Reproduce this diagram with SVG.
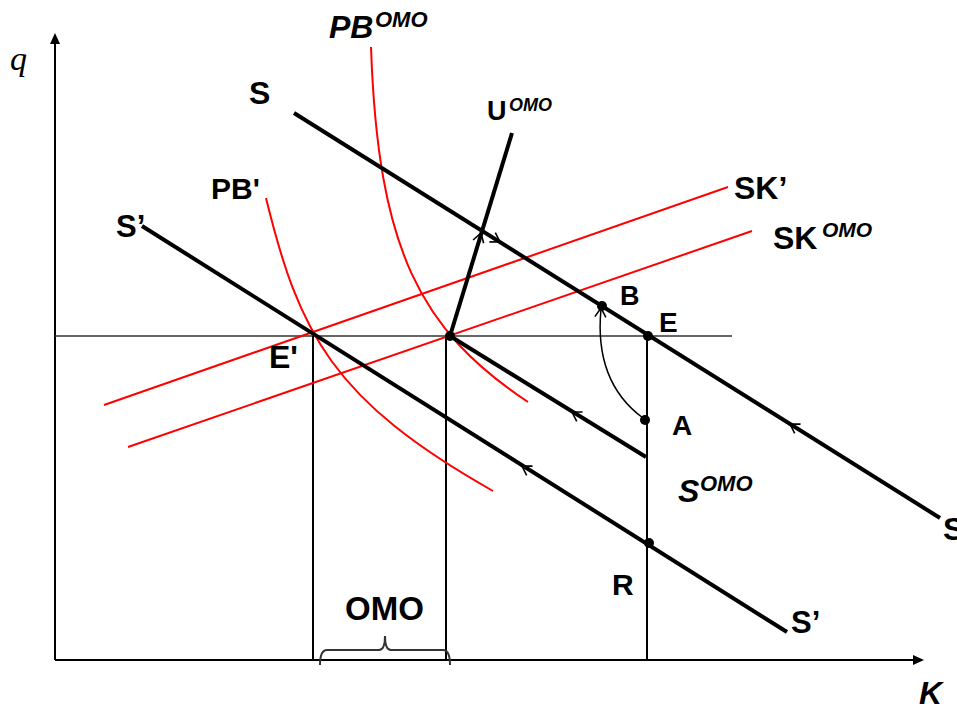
<svg xmlns="http://www.w3.org/2000/svg" xmlns:xlink="http://www.w3.org/1999/xlink" width="957" height="704" viewBox="0 0 957 704">
<style>
.lbl{font-family:"Liberation Sans",Arial,sans-serif;font-weight:bold;fill:#000}
.it{font-style:italic}
.thick{stroke:#000;stroke-width:4;fill:none;stroke-linecap:butt}
.thin{stroke:#000;stroke-width:2;fill:none}
.red{stroke:#ff0000;stroke-width:2;fill:none}
.chev{stroke:#000;stroke-width:1.6;fill:none}
.dot{fill:#000}
</style>
<defs>
<path id="chev" d="M-9,-5.5 L0,0 L-9,5.5"/>
</defs>
<rect width="957" height="704" fill="#fff"/>
<g id="axes">
<line x1="55" y1="660" x2="55" y2="42" class="thin"/>
<polygon points="55,33 50,44 60,44" fill="#000"/>
<line x1="55" y1="660" x2="914" y2="660" class="thin"/>
<polygon points="924,660 913,655 913,665" fill="#000"/>
<text x="10" y="70" font-family="Liberation Serif,serif" font-style="italic" font-size="34">q</text>
<text x="919" y="704" class="lbl it" font-size="32">K</text>
</g>
<g id="guides">
<line x1="55" y1="336" x2="732" y2="336" stroke="#333" stroke-width="1.5"/>
<line x1="313" y1="336" x2="313" y2="660" class="thin"/>
<line x1="446" y1="336" x2="446" y2="660" class="thin"/>
<line x1="647" y1="336" x2="647" y2="660" class="thin"/>
</g>
<g id="curve-PBprime">
<path d="M266,198 C299,333 332,400 493,491" class="red"/>
<text x="211" y="199" class="lbl" font-size="30">PB'</text>
</g>
<g id="curve-PBOMO">
<path d="M371,47 C378,250 420,330 528,402" class="red"/>
<text x="329" y="38" class="lbl it" font-size="32">PB<tspan x="375" y="27" font-size="22">OMO</tspan></text>
</g>
<g id="line-SKprime">
<line x1="104" y1="405" x2="728" y2="187" class="red"/>
<text x="734" y="199" class="lbl" font-size="32">SK’</text>
</g>
<g id="line-SKOMO">
<line x1="128" y1="447" x2="752" y2="231" class="red"/>
<text x="773" y="249" class="lbl" font-size="32">SK<tspan x="822" y="237" class="it" font-size="21">OMO</tspan></text>
</g>
<g id="line-S">
<line x1="294" y1="113" x2="940" y2="518" class="thick"/>
<text x="249" y="104" class="lbl" font-size="32">S</text>
<text x="943" y="540" class="lbl" font-size="32">S</text>
</g>
<g id="line-Sprime">
<line x1="142" y1="226" x2="787" y2="632" class="thick"/>
<text x="116" y="237" class="lbl" font-size="31">S’</text>
<text x="791" y="633" class="lbl" font-size="31">S’</text>
</g>
<g id="line-SOMO">
<line x1="450" y1="336" x2="646" y2="457" class="thick"/>
<text x="678" y="502" class="lbl it" font-size="32">S<tspan x="700" y="491" font-size="22">OMO</tspan></text>
</g>
<g id="line-UOMO">
<line x1="450" y1="336" x2="512" y2="133" class="thick"/>
<text x="487" y="120" class="lbl" font-size="27">U<tspan x="509" y="111" class="it" font-size="18">OMO</tspan></text>
</g>
<g id="connectors">
<use xlink:href="#chev" class="chev" transform="translate(500,242) rotate(32.1)"/>
<use xlink:href="#chev" class="chev" transform="translate(481,233) rotate(-73)"/>
<use xlink:href="#chev" class="chev" transform="translate(572,412) rotate(211.8)"/>
<use xlink:href="#chev" class="chev" transform="translate(522,466) rotate(212.3)"/>
<use xlink:href="#chev" class="chev" transform="translate(790,424) rotate(212.1)"/>
<path d="M643,418 Q594,382 601,309" stroke="#000" stroke-width="1.5" fill="none"/>
<use xlink:href="#chev" class="chev" transform="translate(601,308) rotate(-86)"/>
</g>
<g id="point-B"><circle cx="602" cy="306" r="5" class="dot"/><text x="620" y="305" class="lbl" font-size="27">B</text></g>
<g id="point-E"><circle cx="648" cy="336" r="5" class="dot"/><text x="659" y="332" class="lbl" font-size="28">E</text></g>
<g id="point-A"><circle cx="645" cy="420" r="5" class="dot"/><text x="672" y="435" class="lbl" font-size="28">A</text></g>
<g id="point-R"><circle cx="649" cy="543" r="5" class="dot"/><text x="612" y="595" class="lbl" font-size="30">R</text></g>
<g id="point-OMO"><circle cx="450" cy="336" r="5" class="dot"/></g>
<g id="point-Eprime"><text x="269" y="368" class="lbl" font-size="32">E'</text></g>
<g id="brace-OMO">
<path d="M320,665 Q320,650 327,650 L379,650 Q385,650 385,636 Q385,650 391,650 L443,650 Q450,650 450,665" stroke="#333" stroke-width="2" fill="none"/>
<text x="345" y="620" class="lbl" font-size="33">OMO</text>
</g>
</svg>
